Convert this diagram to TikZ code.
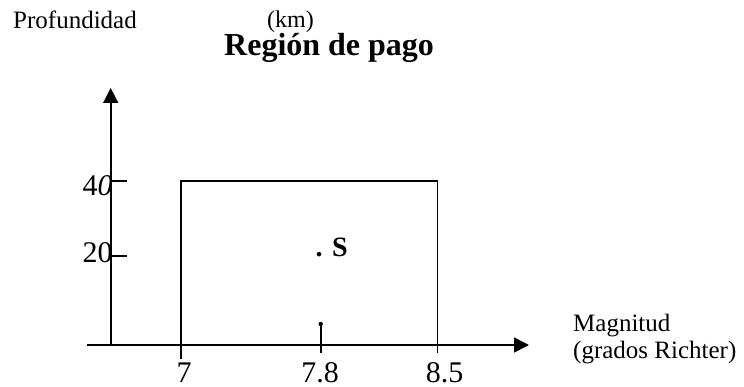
\documentclass[tikz,border=0pt]{standalone}
\usepackage{fontspec}
\setmainfont{Liberation Serif}
\usetikzlibrary{arrows.meta}
\tikzset{
  axisline/.style={line width=1.6pt, -{Triangle[length=15pt,width=15pt]}},
  plain/.style={line width=1.6pt},
  lbl/.style={inner sep=0pt, anchor=base west, font=\fontsize{25}{27}\selectfont},
  num/.style={inner sep=0pt, anchor=base, font=\fontsize{30}{32}\selectfont},
  numw/.style={inner sep=0pt, anchor=base west, font=\fontsize{30}{32}\selectfont},
}
\begin{document}
\begin{tikzpicture}[x=1pt,y=-1pt]
\useasboundingbox (0,0) rectangle (744,387);
% coordinates
\coordinate (yb) at (110.7,345);
\coordinate (yt) at (110.7,88);
\coordinate (xl) at (87,345);
\coordinate (xr) at (529,345);
\coordinate (t40a) at (110.7,181);
\coordinate (t40b) at (127,181);
\coordinate (t20a) at (110.7,256);
\coordinate (t20b) at (127,256);
\coordinate (r1) at (180.7,181);
\coordinate (r2) at (437.5,345);
\coordinate (t7a) at (180.7,181);
\coordinate (t7b) at (180.7,359);
\coordinate (t85b) at (437.5,353);
\coordinate (t85a) at (437.5,181);
\coordinate (t78a) at (320.7,324);
\coordinate (t78b) at (320.7,353);
% axes
\draw[axisline] (yb) -- (yt);
\draw[axisline] (xl) -- (xr);
\draw[plain] (t40a) -- (t40b);
\draw[plain] (t20a) -- (t20b);
\draw[plain] (r1) rectangle (r2);
\draw[plain] (t7a) -- (t7b);
\draw[plain] (t85a) -- (t85b);
\draw[plain] (t78a) -- (t78b);
\fill (t78a) circle (2.2pt);
% texts
\node[lbl] (prof) at (13,29) {Profundidad};
\node[inner sep=0pt, anchor=base west, font=\fontsize{24}{26}\selectfont] (km) at (267,27.5) {(km)};
\node[inner sep=0pt, anchor=base west, font=\fontsize{32}{34}\selectfont\bfseries] (title) at (224,56) {Región de pago};
\node[lbl] (mag) at (573,331.5) {Magnitud};
\node[lbl] (rich) at (573,358) {(grados Richter)};
\node[num] (n7) at (184,382) {7};
\node[num] (n78) at (320,382) {7.8};
\node[num] (n85) at (444.5,382) {8.5};
\node[numw] (n40) at (82.5,196) {4\textit{0}};
\node[numw] (n20) at (82.5,263) {20};
\node[inner sep=0pt, anchor=base west, font=\fontsize{28}{30}\selectfont\bfseries] (s) at (315.5,256.7) {. S};
\end{tikzpicture}
\end{document}
